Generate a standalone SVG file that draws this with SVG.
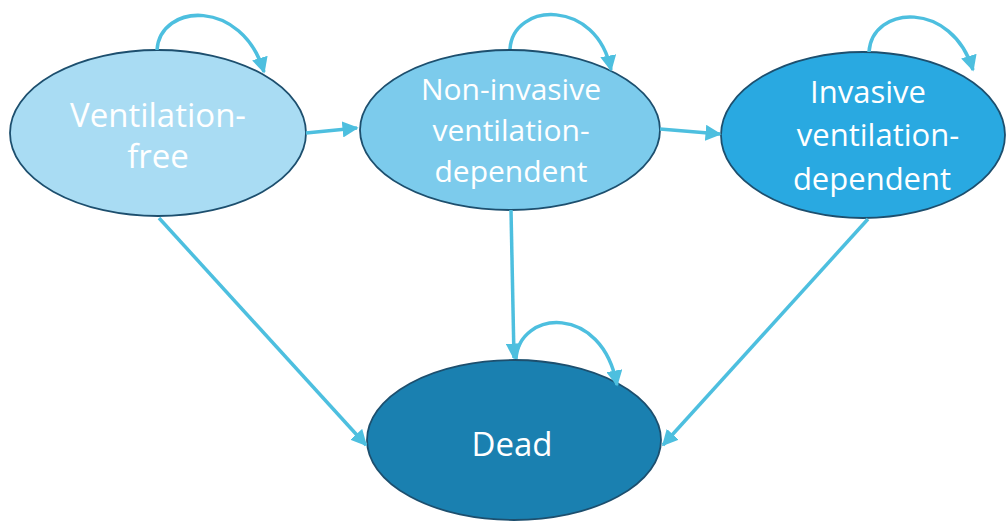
<svg xmlns="http://www.w3.org/2000/svg" width="1006" height="524" viewBox="0 0 1006 524">
<style>
.n{stroke:#1d4f6e;stroke-width:1.8}
.t{font-family:"Open Sans","Liberation Sans",sans-serif;font-size:30px;fill:#fff;text-anchor:middle}
.b{font-size:33px}
.m{font-size:31px}
.c{fill:none;stroke:#4dbfdf;stroke-width:3.5}
</style>
<defs>
<marker id="a" viewBox="0 0 10 10" refX="9" refY="5" markerWidth="4.6" markerHeight="4.6" orient="auto" markerUnits="strokeWidth">
<path d="M0,0 L10,5 L0,10 Z" fill="#4dbfdf"/>
</marker>
</defs>
<rect width="1006" height="524" fill="#fff"/>
<g id="n1"><ellipse class="n" cx="158" cy="133" rx="148" ry="83" fill="#a9dcf3"/>
<text class="t b" x="158" y="127">Ventilation-</text><text class="t b" x="158" y="168">free</text></g>
<g id="n2"><ellipse class="n" cx="510" cy="130" rx="150" ry="80" fill="#7ccbec"/>
<text class="t" x="511" y="100">Non-invasive</text><text class="t" x="511" y="141">ventilation-</text><text class="t" x="511" y="182">dependent</text></g>
<g id="n3"><ellipse class="n" cx="863" cy="135" rx="142" ry="83" fill="#29a9e1"/>
<text class="t m" x="868" y="103">Invasive</text><text class="t m" x="878" y="146">ventilation-</text><text class="t m" x="872" y="190">dependent</text></g>
<g id="n4"><ellipse class="n" cx="514" cy="440" rx="147" ry="80" fill="#1a80b0"/>
<text class="t b" x="512" y="456">Dead</text></g>
<g id="connectors">
<path class="c" d="M157,50 C160,3 242,-2 264,72" marker-end="url(#a)"/>
<path class="c" d="M510,49 C513,2 597,-2 611,70" marker-end="url(#a)"/>
<path class="c" d="M869,52 C872,5 952,0 973,70" marker-end="url(#a)"/>
<path class="c" d="M516,359 C519,310 602,303 617,385" marker-end="url(#a)"/>
<path class="c" d="M306,133 L357,128" marker-end="url(#a)"/>
<path class="c" d="M660,129 L720,134" marker-end="url(#a)"/>
<path class="c" d="M159,218 L366,445" marker-end="url(#a)"/>
<path class="c" d="M511,210 L514,358" marker-end="url(#a)"/>
<path class="c" d="M868,219 L663,445" marker-end="url(#a)"/>
</g>
</svg>
